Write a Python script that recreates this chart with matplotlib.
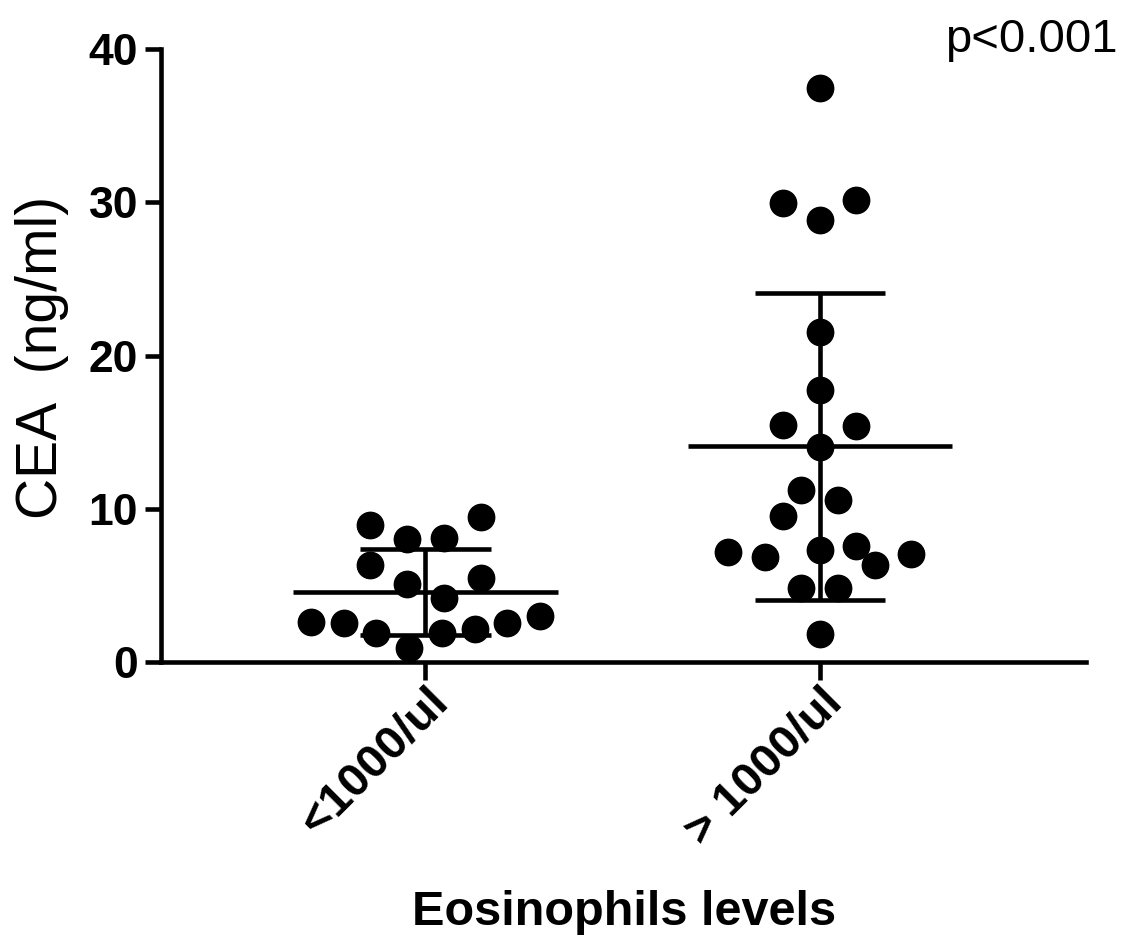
import numpy as np
import matplotlib.pyplot as plt
from matplotlib.transforms import ScaledTranslation

plt.rcParams['font.family'] = ['Liberation Sans', 'DejaVu Sans']

# Data
groups = ["<1000/ul", "> 1000/ul"]
low_vals = [8.93, 8.0, 8.08, 9.47, 6.32, 5.06, 5.49, 4.17,
            2.63, 2.54, 1.91, 0.91, 1.91, 2.15, 2.54, 3.0]
high_vals = [37.48, 29.95, 28.86, 30.14, 21.52, 17.72, 15.44, 15.37,
             14.03, 11.25, 10.55, 9.53, 7.15, 6.86, 7.30, 7.58,
             6.32, 7.08, 4.80, 4.80, 1.82]

# beeswarm offsets (in dot widths)
low_off = [-1.5, -0.5, 0.5, 1.5, -1.5, -0.5, 1.5, 0.5,
           -3.13, -2.23, -1.36, -0.46, 0.46, 1.36, 2.23, 3.13]
high_off = [0, -1, 0, 1, 0, 0, -1, 1, 0, -0.5, 0.5, -1,
            -2.5, -1.5, 0, 1, 1.5, 2.5, -0.5, 0.5, 0]

step = 0.0931
lw = 3.3

fig = plt.figure(figsize=(11.27, 9.46), dpi=100)
ax = fig.add_axes([0.1429, 0.3002, 0.8207, 0.648])

for i, (vals, off) in enumerate([(low_vals, low_off), (high_vals, high_off)]):
    vals = np.array(vals)
    xs = i + np.array(off) * step
    ax.plot(xs, vals, 'o', color='black', markersize=19, clip_on=False, zorder=3)
    m = vals.mean()
    sd = vals.std(ddof=1)
    ax.hlines(m, i - 0.335, i + 0.335, color='black', lw=lw, zorder=2)
    ax.hlines([m - sd, m + sd], i - 0.165, i + 0.165, color='black', lw=lw, zorder=2)
    ax.vlines(i, m - sd, m + sd, color='black', lw=lw, zorder=2)

ax.set_xlim(-0.671, 1.676)
ax.set_ylim(0, 40)
ax.set_yticks([0, 10, 20, 30, 40])
ax.set_xticks([0, 1])
ax.set_xticklabels(groups, rotation=45, ha='right', va='top',
                   rotation_mode='anchor', fontsize=34, fontweight='bold')
shift = ScaledTranslation(-0.06, 0, fig.dpi_scale_trans)
for lab in ax.get_xticklabels():
    lab.set_transform(lab.get_transform() + shift)
for lab in ax.get_yticklabels():
    lab.set_fontsize(32)
    lab.set_fontweight('bold')

for s in ['top', 'right']:
    ax.spines[s].set_visible(False)
for s in ['left', 'bottom']:
    ax.spines[s].set_linewidth(lw)
ax.tick_params(axis='y', length=11.5, width=lw, pad=5)
ax.tick_params(axis='x', length=13, width=lw, pad=0)

fig.text(0.037, 0.622, "CEA  (ng/ml)", rotation=90, ha='center', va='center',
         fontsize=41)
fig.text(0.5535, 0.0222, "Eosinophils levels", ha='center', va='baseline',
         fontsize=35, fontweight='bold')
fig.text(0.992, 0.945, "p<0.001", ha='right', va='baseline', fontsize=34)

fig.savefig("out.png", dpi=100)
